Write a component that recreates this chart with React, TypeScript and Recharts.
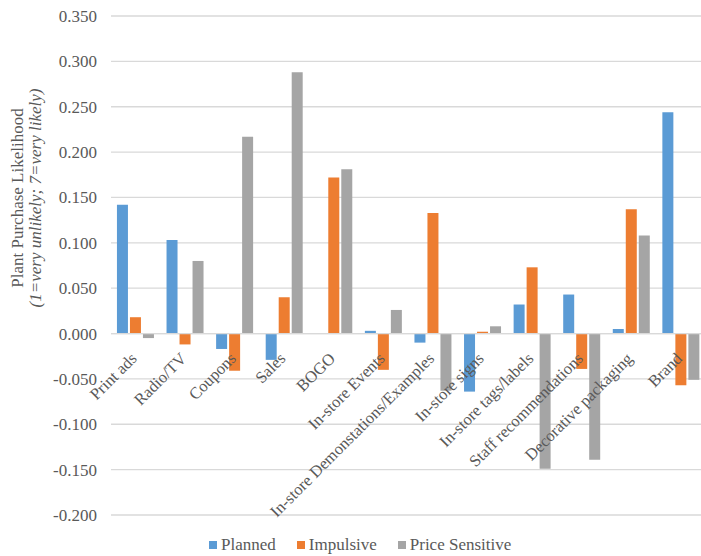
import React from "react";
import {
  ComposedChart,
  Bar,
  Line,
  XAxis,
  YAxis,
  CartesianGrid,
  ReferenceLine,
  Legend,
  LabelList,
  Label,
} from "recharts";

const categories = [
  "Print ads",
  "Radio/TV",
  "Coupons",
  "Sales",
  "BOGO",
  "In-store Events",
  "In-store Demonstations/Examples",
  "In-store signs",
  "In-store tags/labels",
  "Staff recommendations",
  "Decorative packaging",
  "Brand",
];

const planned = [0.142, 0.103, -0.017, -0.029, 0.0, 0.003, -0.01, -0.064, 0.032, 0.043, 0.005, 0.244];
const impulsive = [0.018, -0.012, -0.041, 0.04, 0.172, -0.04, 0.133, 0.002, 0.073, -0.039, 0.137, -0.057];
const priceSensitive = [-0.005, 0.08, 0.217, 0.288, 0.181, 0.026, -0.063, 0.008, -0.149, -0.139, 0.108, -0.051];

const seriesNames = ["Planned", "Impulsive", "Price Sensitive"];
const seriesColors = ["#5b9bd5", "#ed7d31", "#a5a5a5"];

const yTicks = [-0.2, -0.15, -0.1, -0.05, 0, 0.05, 0.1, 0.15, 0.2, 0.25, 0.3, 0.35];

const FONT = "Liberation Serif, Times New Roman, serif";
const TEXT = "#595959";

const data = categories.map((name, i) => ({
  name,
  Planned: planned[i],
  Impulsive: impulsive[i],
  "Price Sensitive": priceSensitive[i],
}));

// category labels sit on the zero line, like excel does
function CategoryLabel(props: any) {
  const { x, y, value } = props;
  const ax = x + 2;
  const ay = y + 26;
  return (
    <text
      x={ax}
      y={ay}
      transform={`rotate(-45, ${ax}, ${ay})`}
      textAnchor="end"
      fill={TEXT}
      fontSize={16.5}
      fontFamily={FONT}
    >
      {value}
    </text>
  );
}

function AxisTitle() {
  const cy = 198;
  return (
    <g fill={TEXT} fontFamily={FONT} fontSize={17}>
      <text x={23} y={cy} transform={`rotate(-90, 23, ${cy})`} textAnchor="middle">
        Plant Purchase Likelihood
      </text>
      <text x={41} y={cy} transform={`rotate(-90, 41, ${cy})`} textAnchor="middle" fontStyle="italic">
        (1=very unlikely; 7=very likely)
      </text>
    </g>
  );
}

function LegendContent() {
  return (
    <div style={{ display: "flex", fontFamily: FONT, fontSize: 17, color: TEXT, lineHeight: "20px" }}>
      {seriesNames.map((name, i) => (
        <span key={name} style={{ display: "flex", alignItems: "center", marginRight: 21 }}>
          <span style={{ width: 8, height: 8, background: seriesColors[i], marginRight: 4, display: "inline-block" }} />
          {name}
        </span>
      ))}
    </div>
  );
}

export default function App() {
  return (
    <div style={{ position: "absolute", left: 0, top: 0, width: 701, height: 556, overflow: "hidden", background: "#fff" }}>
      <ComposedChart
        width={706}
        height={556}
        data={data}
        margin={{ top: 16, right: 0, bottom: 41, left: 0 }}
        barCategoryGap="12%"
        barGap={2}
      >
        <CartesianGrid vertical={false} stroke="#d9d9d9" strokeWidth={1.3} />
        <XAxis dataKey="name" hide />
        <YAxis
          width={111}
          domain={[-0.2, 0.35]}
          ticks={yTicks}
          interval={0}
          axisLine={false}
          tickLine={false}
          tickSize={0}
          tickMargin={14}
          tickFormatter={(v: number) => v.toFixed(3)}
          tick={{ fill: TEXT, fontSize: 17, fontFamily: FONT }}
        >
          <Label content={<AxisTitle />} />
        </YAxis>
        <ReferenceLine y={0} stroke="#d9d9d9" strokeWidth={1.3} />
        {seriesNames.map((name, i) => (
          <Bar key={name} dataKey={name} fill={seriesColors[i]} isAnimationActive={false} />
        ))}
        <Line
          dataKey={() => 0}
          stroke="none"
          dot={false}
          activeDot={false}
          legendType="none"
          isAnimationActive={false}
        >
          <LabelList dataKey="name" content={<CategoryLabel />} />
        </Line>
        <Legend
          layout="horizontal"
          verticalAlign="middle"
          align="center"
          wrapperStyle={{ top: 535, left: 209, width: 480 }}
          content={<LegendContent />}
        />
      </ComposedChart>
    </div>
  );
}
